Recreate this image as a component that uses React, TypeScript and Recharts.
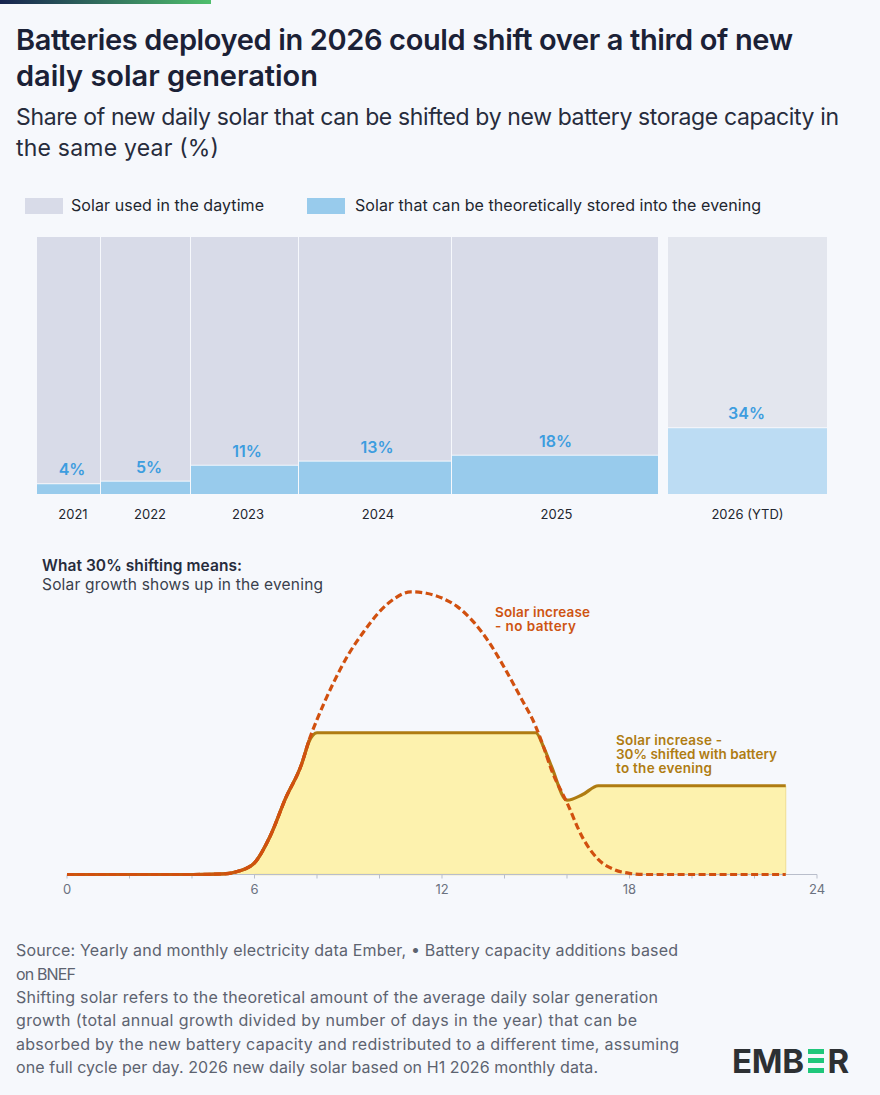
import { Area, Bar, BarChart, ComposedChart, LabelList, Line, ReferenceLine, XAxis, YAxis } from 'recharts'

const FONT = 'Inter, "Noto Sans", sans-serif'

const years = ['2021', '2022', '2023', '2024', '2025', '2026 (YTD)']
const shareLabels = ['4%', '5%', '11%', '13%', '18%', '34%']
// bar heights as drawn in the picture, they do not follow the labels exactly
const storedShare = [3.8, 4.8, 11, 12.6, 14.9, 25.6]
const newSolar = [64, 90, 108, 153, 207, 160]
const barStart = [0, 64, 154, 262, 415, 631]
const labelAt = [36.5, 113.5, 211.5, 341.5, 520, 711]

const hours = [0, 1, 2, 3, 4, 5, 5.5, 6, 6.5, 7, 7.5, 7.75, 8, 8.5, 9, 9.5, 10, 10.5, 11, 11.5, 12, 12.5, 13, 13.5, 14, 14.5, 15, 15.25, 15.5, 16, 16.5, 17, 17.5, 18, 18.5, 19, 20, 21, 22, 23]
const noBattery = [0, 0, 0, 0, 0, 0.2, 1.2, 4.1, 13.5, 27, 38.7, 47.5, 54.6, 67, 77.5, 85.7, 92.7, 97.5, 99.7, 99.2, 97.5, 94.4, 89.2, 82, 72.9, 62.8, 52.2, 45, 37, 25.3, 13, 5.3, 1.8, 0.4, 0, 0, 0, 0, 0, 0]
const withBattery = [0, 0, 0, 0, 0, 0.2, 1.2, 4.1, 13.5, 27, 38.7, 47, 50, 50, 50, 50, 50, 50, 50, 50, 50, 50, 50, 50, 50, 50, 50, 45, 38.2, 26.2, 28.2, 31.3, 31.3, 31.3, 31.3, 31.3, 31.3, 31.3, 31.3, 31.3]
const hourTicks = [0, 2, 4, 6, 8, 10, 12, 14, 16, 18, 20, 22, 24]
const LAST_SHARED_HOUR = 7.75

const barData = years.map((year, i) => ({
  year,
  at: labelAt[i],
  start: barStart[i],
  size: newSolar[i],
  label: shareLabels[i],
  stored: storedShare[i],
  daytime: 100 - storedShare[i],
}))

const dayData = hours.map((hour, i) => ({
  hour,
  noBattery: noBattery[i],
  withBattery: withBattery[i],
  shared: hour <= LAST_SHARED_HOUR ? noBattery[i] : null,
}))

const X_MAX = 791
const PLOT_W = 791
const pxPerUnit = PLOT_W / X_MAX

const MekkoBar = (props: any) => {
  const { x, y, width, height, payload, top } = props
  const cx = x + width / 2
  const left = cx + (payload.start - payload.at) * pxPerUnit
  const w = payload.size * pxPerUnit - 1
  const ytd = payload.year.includes('YTD')
  const fill = top ? (ytd ? '#E3E6EE' : '#D8DBE8') : ytd ? '#BCDCF3' : '#98CBEC'
  return <rect x={left} y={y} width={w} height={Math.max(height - (top ? 1 : 0), 0)} fill={fill} />
}

type TextProps = {
  x: number
  y: number
  w: number
  size: number
  color: string
  weight?: number
  children: string
}

const T = ({ x, y, w, size, color, weight = 400, children }: TextProps) => (
  <text
    x={x}
    y={y}
    textLength={w}
    lengthAdjust="spacing"
    fontSize={size}
    fill={color}
    fontWeight={weight}
    fontFamily={FONT}
  >
    {children}
  </text>
)

const Overlay = () => (
  <svg width={880} height={1095} style={{ position: 'absolute', left: 0, top: 0 }}>
    <defs>
      <linearGradient id="topBar" x1="0" x2="1" y1="0" y2="0">
        <stop offset="0" stopColor="#16234F" />
        <stop offset="1" stopColor="#4FBF6C" />
      </linearGradient>
    </defs>
    <rect x={0} y={0} width={211} height={4} fill="url(#topBar)" />

    <T x={16} y={50} w={777} size={29} weight={600} color="#1B2136">Batteries deployed in 2026 could shift over a third of new</T>
    <T x={16} y={86} w={302} size={29} weight={600} color="#1B2136">daily solar generation</T>
    <T x={16} y={125} w={823} size={23} color="#272C3C">Share of new daily solar that can be shifted by new battery storage capacity in</T>
    <T x={16} y={156} w={203} size={23} color="#272C3C">the same year (%)</T>

    <rect x={25} y={198} width={38} height={16} fill="#D8DBE8" />
    <T x={71} y={211} w={193} size={16} color="#22262F">Solar used in the daytime</T>
    <rect x={307} y={198} width={38} height={16} fill="#98CBEC" />
    <T x={355} y={211} w={406} size={16} color="#22262F">Solar that can be theoretically stored into the evening</T>

    <T x={42} y={571} w={200} size={15.5} weight={600} color="#272C3C">What 30% shifting means:</T>
    <T x={42} y={590} w={281} size={15.5} color="#3A3F4C">Solar growth shows up in the evening</T>

    <T x={495} y={617} w={95} size={13.5} weight={600} color="#CE5412">Solar increase</T>
    <T x={495} y={631} w={81} size={13.5} weight={600} color="#CE5412">- no battery</T>
    <T x={616} y={745} w={106} size={13.5} weight={600} color="#AF7C12">Solar increase -</T>
    <T x={616} y={759} w={161} size={13.5} weight={600} color="#AF7C12">30% shifted with battery</T>
    <T x={616} y={773} w={96} size={13.5} weight={600} color="#AF7C12">to the evening</T>

    <T x={16} y={956} w={662} size={16} color="#5D6370">Source: Yearly and monthly electricity data Ember, • Battery capacity additions based</T>
    <T x={16} y={980} w={60} size={16} color="#5D6370">on BNEF</T>
    <T x={16} y={1003} w={642} size={16} color="#5D6370">Shifting solar refers to the theoretical amount of the average daily solar generation</T>
    <T x={16} y={1026} w={621} size={16} color="#5D6370">growth (total annual growth divided by number of days in the year) that can be</T>
    <T x={16} y={1050} w={663} size={16} color="#5D6370">absorbed by the new battery capacity and redistributed to a different time, assuming</T>
    <T x={16} y={1073} w={582} size={16} color="#5D6370">one full cycle per day. 2026 new daily solar based on H1 2026 monthly data.</T>

    <T x={732} y={1073} w={72} size={33} weight={700} color="#2D3033">EMB</T>
    <rect x={808} y={1049} width={16} height={5} fill="#1FC77B" />
    <rect x={808} y={1058} width={16} height={5} fill="#1FC77B" />
    <rect x={808} y={1068} width={16} height={5} fill="#1FC77B" />
    <T x={827.5} y={1073} w={21} size={33} weight={700} color="#2D3033">R</T>
  </svg>
)

const SharesChart = () => (
  <BarChart
    width={880}
    height={310}
    data={barData}
    margin={{ top: 17, right: 52.5, bottom: 0, left: 36.5 }}
    barSize={10}
    style={{ position: 'absolute', left: 0, top: 220 }}
  >
    <XAxis
      type="number"
      dataKey="at"
      domain={[0, X_MAX]}
      ticks={labelAt}
      tickFormatter={(v: number) => years[labelAt.indexOf(v)]}
      interval={0}
      height={36}
      axisLine={false}
      tickLine={false}
      tick={{ fontSize: 13, fill: '#22262F', fontFamily: FONT }}
      tickMargin={10}
    />
    <YAxis hide domain={[0, 100]} />
    <Bar dataKey="stored" stackId="a" isAnimationActive={false} shape={<MekkoBar />}>
      <LabelList
        dataKey="label"
        position="top"
        offset={9}
        dx={-1.5}
        fill="#3D9DDF"
        fontSize={16}
        fontWeight={600}
        fontFamily={FONT}
      />
    </Bar>
    <Bar dataKey="daytime" stackId="a" isAnimationActive={false} shape={<MekkoBar top />} />
  </BarChart>
)

// two stacked charts so that the lines sit on top of the axis line
const DayChartBase = () => (
  <ComposedChart
    width={880}
    height={340}
    data={dayData}
    margin={{ top: 11, right: 63, bottom: 0, left: 67 }}
    style={{ position: 'absolute', left: 0, top: 580 }}
  >
    <XAxis
      type="number"
      dataKey="hour"
      domain={[0, 24]}
      ticks={hourTicks}
      interval={0}
      height={45.5}
      tickFormatter={(v: number) => (v % 6 === 0 ? String(v) : '')}
      stroke="#B9BECB"
      tickSize={4}
      tickMargin={6}
      tick={{ fontSize: 13, fill: '#6B7280', fontFamily: FONT }}
    />
    <YAxis hide domain={[0, 100]} />
    <Area dataKey="withBattery" type="monotone" fill="#FDF2AE" fillOpacity={1} stroke="none" isAnimationActive={false} />
    <ReferenceLine segment={[{ x: 6, y: 0 }, { x: 23, y: 0 }]} stroke="#F0DE90" strokeWidth={1.5} />
    <ReferenceLine segment={[{ x: 23, y: 0 }, { x: 23, y: 31.3 }]} stroke="#F0DE90" strokeWidth={1} />
  </ComposedChart>
)

const DayChartLines = () => (
  <ComposedChart
    width={880}
    height={340}
    data={dayData}
    margin={{ top: 11, right: 63, bottom: 45.5, left: 67 }}
    style={{ position: 'absolute', left: 0, top: 580 }}
  >
    <XAxis hide type="number" dataKey="hour" domain={[0, 24]} />
    <YAxis hide domain={[0, 100]} />
    <Line dataKey="withBattery" type="monotone" stroke="#AF7C12" strokeWidth={3.2} dot={false} isAnimationActive={false} />
    <Line dataKey="shared" type="monotone" stroke="#C9590F" strokeWidth={3.2} dot={false} isAnimationActive={false} />
    <Line dataKey="noBattery" type="monotone" stroke="#D1500F" strokeWidth={3.2} strokeDasharray="7 3.5" dot={false} isAnimationActive={false} />
  </ComposedChart>
)

export default function App() {
  return (
    <div style={{ position: 'absolute', left: 0, top: 0, width: 880, height: 1095, background: '#F6F8FC', overflow: 'hidden' }}>
      <SharesChart />
      <DayChartBase />
      <DayChartLines />
      <Overlay />
    </div>
  )
}
